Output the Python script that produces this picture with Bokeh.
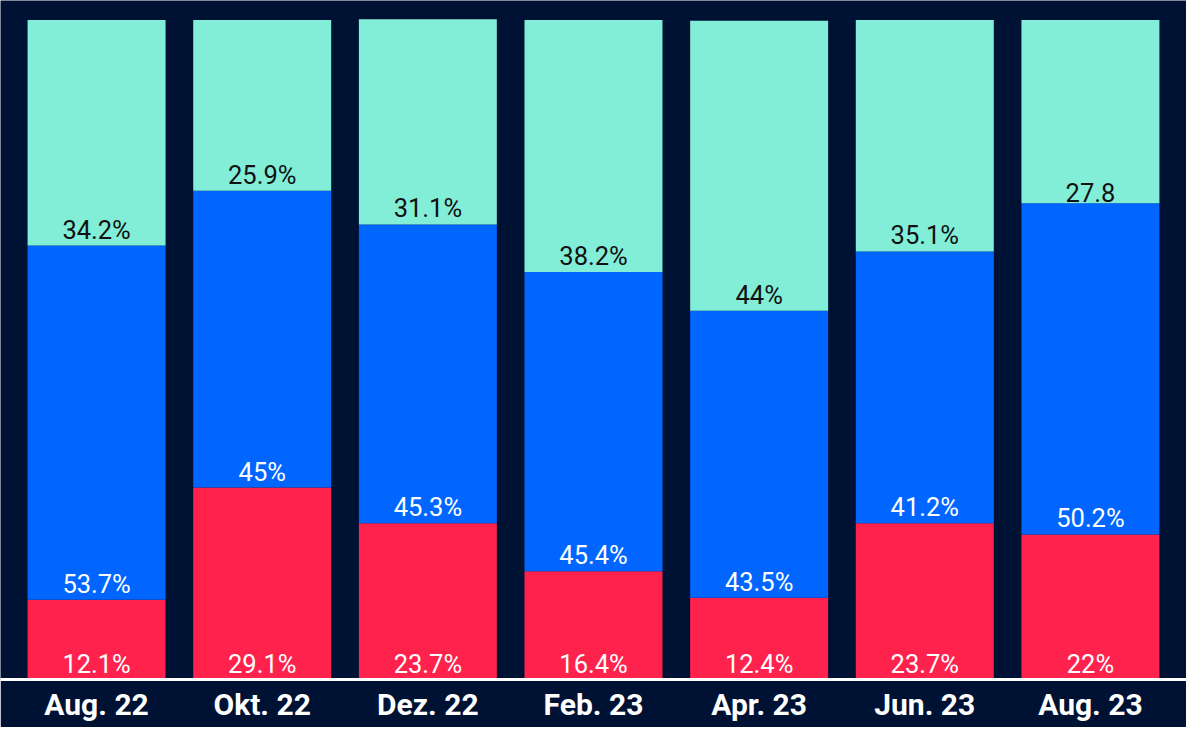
from bokeh.plotting import figure
from bokeh.models import ColumnDataSource, FactorRange, Range1d
from bokeh.core.properties import value
from bokeh.embed import file_html
from bokeh.resources import INLINE

months = ["Aug. 22", "Okt. 22", "Dez. 22", "Feb. 23", "Apr. 23", "Jun. 23", "Aug. 23"]
red = [12.1, 29.1, 23.7, 16.4, 12.4, 23.7, 22.0]
blue = [53.7, 45.0, 45.3, 45.4, 43.5, 41.2, 50.2]
mint = [34.2, 25.9, 31.1, 38.2, 44.0, 35.1, 27.8]
red_labels = ["12.1%", "29.1%", "23.7%", "16.4%", "12.4%", "23.7%", "22%"]
blue_labels = ["53.7%", "45%", "45.3%", "45.4%", "43.5%", "41.2%", "50.2%"]
mint_labels = ["34.2%", "25.9%", "31.1%", "38.2%", "44%", "35.1%", "27.8"]

BG = "#001233"
RED = "#FF224D"
BLUE = "#0066FF"
MINT = "#82EED8"

red_top = red[:]
blue_top = [r + b for r, b in zip(red, blue)]
mint_top = [r + b + m for r, b, m in zip(red, blue, mint)]

src = ColumnDataSource(dict(
    x=months,
    zero=[0] * len(months),
    red_top=red_top, blue_top=blue_top, mint_top=mint_top,
    red_lab=red_labels, blue_lab=blue_labels, mint_lab=mint_labels,
))

p = figure(
    x_range=FactorRange(*months, range_padding=0.08, range_padding_units="absolute"),
    y_range=Range1d(0, 102.96),
    width=1186, height=727,
    output_backend="svg", toolbar_location=None,
    min_border_left=0, min_border_right=0, min_border_top=0, min_border_bottom=48,
    background_fill_color=BG, border_fill_color=BG, outline_line_color=None,
)

W = 0.833
p.vbar(x="x", bottom="zero", top="red_top", width=W, source=src, fill_color=RED, line_color=None)
p.vbar(x="x", bottom="red_top", top="blue_top", width=W, source=src, fill_color=BLUE, line_color=None)
p.vbar(x="x", bottom="blue_top", top="mint_top", width=W, source=src, fill_color=MINT, line_color=None)

common = dict(text_align="center", text_baseline="bottom", y_offset=-1,
              text_font=value("Roboto"), text_font_size="25.5px", source=src)
p.text(x="x", y="zero", text="red_lab", text_color="white", **common)
p.text(x="x", y="red_top", text="blue_lab", text_color="white", **common)
p.text(x="x", y="blue_top", text="mint_lab", text_color="#111111", **common)

p.yaxis.visible = False
p.xgrid.grid_line_color = None
p.ygrid.grid_line_color = None
p.xaxis.axis_line_color = "white"
p.xaxis.axis_line_width = 3
p.xaxis.major_tick_line_color = None
p.xaxis.minor_tick_line_color = None
p.xaxis.major_tick_out = 0
p.xaxis.major_tick_in = 0
p.xaxis.major_label_text_color = "white"
p.xaxis.major_label_text_font = "Roboto"
p.xaxis.major_label_text_font_size = "30px"
p.xaxis.major_label_text_font_style = "bold"
p.xaxis.major_label_standoff = 7

html = file_html(p, INLINE)
html = html.replace("<body>", "<body style=\"background-color:%s;\">" % BG, 1)
open("out.html", "w").write(html)
